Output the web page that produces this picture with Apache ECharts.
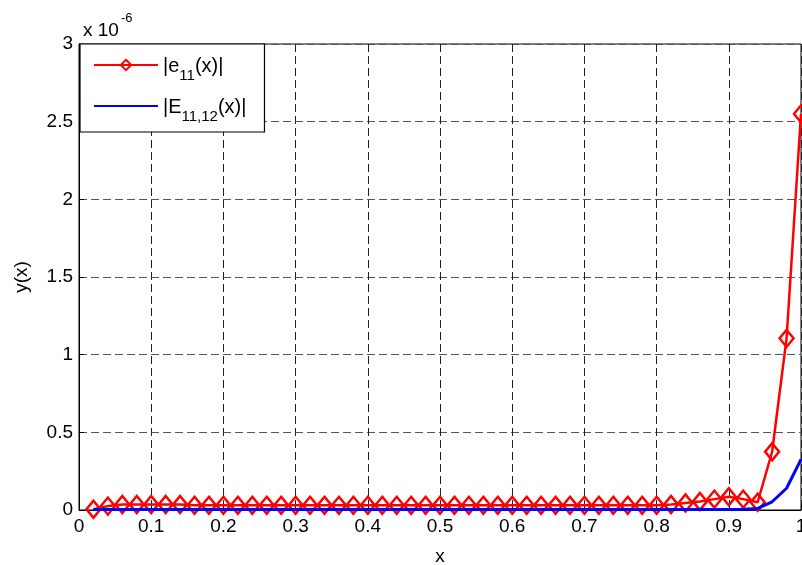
<!DOCTYPE html>
<html><head><meta charset="utf-8">
<script src="https://cdn.jsdelivr.net/npm/echarts@6/dist/echarts.min.js"></script>
<style>html,body{margin:0;padding:0;background:#fff}#c{width:802px;height:565px}</style>
</head><body><div id="c"></div>
<script>
const xValues = [0.02,0.04,0.06,0.08,0.10,0.12,0.14,0.16,0.18,0.20,0.22,0.24,0.26,0.28,0.30,0.32,0.34,0.36,0.38,0.40,0.42,0.44,0.46,0.48,0.50,0.52,0.54,0.56,0.58,0.60,0.62,0.64,0.66,0.68,0.70,0.72,0.74,0.76,0.78,0.80,0.82,0.84,0.86,0.88,0.90,0.92,0.94,0.96,0.98,1.00];
// values in units of 1e-6
const errE11 = [0.005,0.025,0.035,0.035,0.035,0.035,0.035,0.03,0.03,0.03,0.03,0.03,0.03,0.03,0.03,0.03,0.03,0.03,0.03,0.03,0.03,0.03,0.03,0.03,0.03,0.03,0.03,0.03,0.03,0.03,0.03,0.03,0.03,0.03,0.03,0.03,0.03,0.03,0.03,0.03,0.035,0.045,0.055,0.07,0.085,0.07,0.05,0.375,1.105,2.55];
const errE1112 = [0.004,0.004,0.004,0.004,0.004,0.004,0.004,0.004,0.004,0.004,0.004,0.004,0.004,0.004,0.004,0.004,0.004,0.004,0.004,0.004,0.004,0.004,0.004,0.004,0.004,0.004,0.004,0.004,0.004,0.004,0.004,0.004,0.004,0.004,0.004,0.004,0.004,0.004,0.004,0.004,0.004,0.004,0.004,0.004,0.004,0.005,0.01,0.053,0.14,0.326];
const xTicks = [0,0.1,0.2,0.3,0.4,0.5,0.6,0.7,0.8,0.9,1];
const yTicks = [0,0.5,1,1.5,2,2.5,3];
const seriesNames = ['|e11(x)|','|E11,12(x)|'];

const FONT = 'Liberation Sans, Arial, sans-serif';
const FS = 19;
const chart = echarts.init(document.getElementById('c'));
chart.setOption({
  animation:false,
  backgroundColor:'#fff',
  title:{
    text:'{a|x 10}{b|-6}', left:78, top:7,
    textStyle:{fontWeight:'normal',rich:{
      a:{fontFamily:FONT,fontSize:FS,fontWeight:'normal',color:'#000',verticalAlign:'bottom',padding:[9,0,0,0]},
      b:{fontFamily:FONT,fontSize:13,fontWeight:'normal',color:'#000',verticalAlign:'top',padding:[0,0,10,2]}
    }}
  },
  grid:{left:79,right:1,top:44,bottom:55,outerBoundsMode:'none',containLabel:false,show:true,borderColor:'#000',borderWidth:1,backgroundColor:'transparent'},
  legend:{
    left:80, top:44, orient:'vertical',
    backgroundColor:'#fff', borderColor:'#000', borderWidth:1.2, borderRadius:0,
    padding:[12,18,8,13], itemGap:14, itemWidth:64, itemHeight:13,
    data:[
      {name:seriesNames[0]},
      {name:seriesNames[1], itemStyle:{opacity:0}}
    ],
    formatter:function(n){
      if(n===seriesNames[0]) return '{t||e}{s|11}{t|(x)|}';
      return '{t||E}{s|11,12}{t|(x)|}';
    },
    textStyle:{rich:{
      t:{fontFamily:FONT,fontSize:20,color:'#000',verticalAlign:'bottom',lineHeight:22},
      s:{fontFamily:FONT,fontSize:15,color:'#000',verticalAlign:'bottom',padding:[0,0,-7,0],lineHeight:22}
    }}
  },
  xAxis:{
    type:'value', min:0, max:1, interval:0.1,
    name:'x', nameLocation:'middle', nameGap:37,
    nameTextStyle:{fontFamily:FONT,fontSize:FS,color:'#000'},
    axisLine:{show:true,onZero:false,lineStyle:{color:'#000',width:1}},
    axisTick:{show:true,inside:true,length:5,lineStyle:{color:'#000'}},
    axisLabel:{fontFamily:FONT,fontSize:FS,color:'#000',margin:7,hideOverlap:false,
      formatter:v=>{const t=xTicks.find(k=>Math.abs(k-v)<1e-9);return t===undefined?'':String(t);}},
    splitLine:{show:true,lineStyle:{type:[8,4],color:'#222',width:1}}
  },
  yAxis:{
    type:'value', min:0, max:3, interval:0.5,
    name:'y(x)', nameLocation:'middle', nameGap:48, nameRotate:90,
    nameTextStyle:{fontFamily:FONT,fontSize:FS,color:'#000'},
    axisLine:{show:true,onZero:false,lineStyle:{color:'#000',width:1}},
    axisTick:{show:true,inside:true,length:5,lineStyle:{color:'#000'}},
    axisLabel:{fontFamily:FONT,fontSize:FS,color:'#000',margin:6,hideOverlap:false,
      formatter:v=>{const t=yTicks.find(k=>Math.abs(k-v)<1e-9);return t===undefined?'':String(t);}},
    splitLine:{show:true,lineStyle:{type:[8,4],color:'#555',width:1}}
  },
  series:[
    {
      name:seriesNames[0], type:'line',
      data:xValues.map((x,i)=>[x,errE11[i]]),
      symbol:'diamond', symbolSize:[14,17], showSymbol:true,
      lineStyle:{color:'#ff0000',width:2.5},
      itemStyle:{color:'rgba(255,255,255,0)',borderColor:'#ff0000',borderWidth:2.5},
      clip:false, z:3
    },
    {
      name:seriesNames[1], type:'line',
      data:xValues.map((x,i)=>[x,errE1112[i]]),
      symbol:'none', showSymbol:false,
      lineStyle:{color:'#0000ff',width:3},
      itemStyle:{color:'#0000ff'},
      clip:false, z:4
    }
  ]
});
</script></body></html>
